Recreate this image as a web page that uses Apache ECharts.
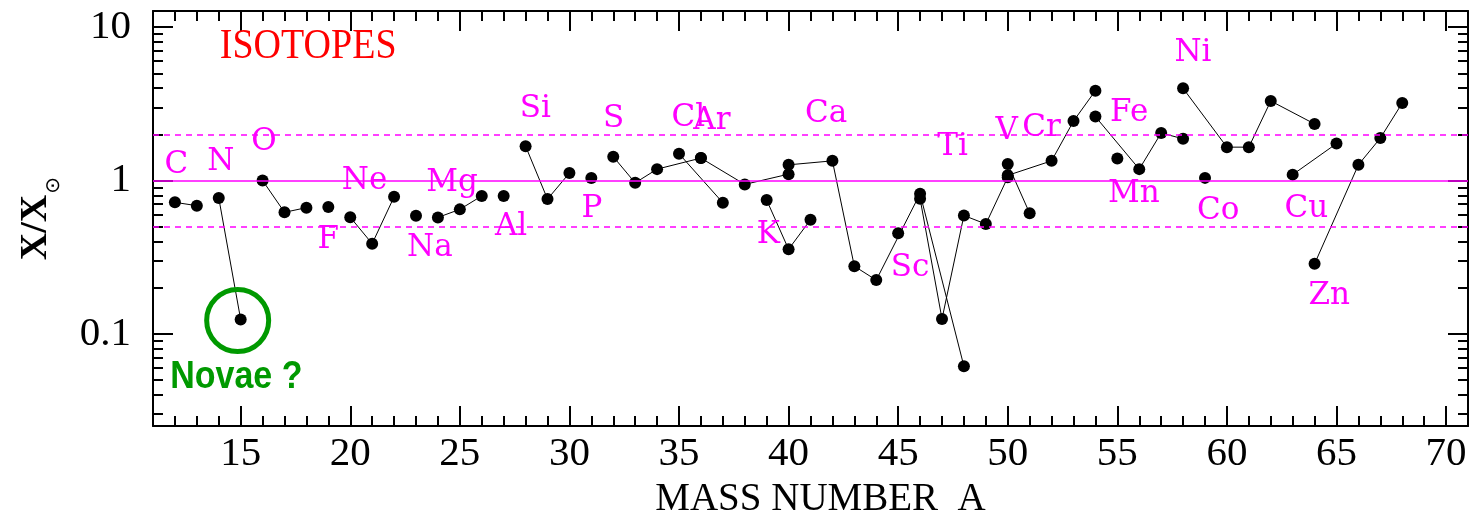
<!DOCTYPE html>
<html>
<head>
<meta charset="utf-8">
<script src="https://cdn.jsdelivr.net/npm/echarts@6/dist/echarts.min.js"></script>
<style>
  html, body { margin: 0; padding: 0; background: #ffffff; }
  #chart { width: 1476px; height: 524px; }
</style>
</head>
<body>
<div id="chart"></div>
<script>
// Isotopic abundances relative to solar: [mass number A, X/X⊙]
const carbon     = [[12, 0.72], [13, 0.685]];
const nitrogen   = [[14, 0.77], [15, 0.124]];
const oxygen     = [[16, 1.0], [17, 0.62], [18, 0.665]];
const fluorine   = [[19, 0.672]];
const neon       = [[20, 0.576], [21, 0.387], [22, 0.782]];
const sodium     = [[23, 0.588]];
const magnesium  = [[24, 0.574], [25, 0.648], [26, 0.793]];
const aluminium  = [[27, 0.793]];
const silicon    = [[28, 1.675], [29, 0.756], [30, 1.118]];
const phosphorus = [[31, 1.039]];
const sulfur     = [[32, 1.43], [33, 0.965], [34, 1.186], [36, 1.40]];
const chlorine   = [[35, 1.495], [37, 0.716]];
const argon      = [[36, 1.40], [38, 0.943], [40, 1.10]];
const potassium  = [[39, 0.745], [40, 0.356], [41, 0.555]];
const calcium    = [[40, 1.265], [42, 1.343], [43, 0.276], [44, 0.224], [46, 0.82], [48, 0.0614]];
const scandium   = [[45, 0.452]];
const titanium   = [[46, 0.76], [47, 0.125], [48, 0.591], [49, 0.52], [50, 1.05]];
const vanadium   = [[50, 1.28], [51, 0.611]];
const chromium   = [[50, 1.08], [52, 1.343], [53, 2.44], [54, 3.855]];
const manganese  = [[55, 1.39]];
const iron       = [[54, 2.61], [56, 1.186], [57, 2.04], [58, 1.87]];
const cobalt     = [[59, 1.04]];
const nickel     = [[58, 3.99], [60, 1.65], [61, 1.65], [62, 3.30], [64, 2.337]];
const copper     = [[63, 1.092], [65, 1.74]];
const zinc       = [[64, 0.286], [66, 1.266], [67, 1.89], [68, 3.2]];

const elementSeries = [
  ['C', carbon], ['N', nitrogen], ['O', oxygen], ['F', fluorine], ['Ne', neon],
  ['Na', sodium], ['Mg', magnesium], ['Al', aluminium], ['Si', silicon],
  ['P', phosphorus], ['S', sulfur], ['Cl', chlorine], ['Ar', argon],
  ['K', potassium], ['Ca', calcium], ['Sc', scandium], ['Ti', titanium],
  ['V', vanadium], ['Cr', chromium], ['Mn', manganese], ['Fe', iron],
  ['Co', cobalt], ['Ni', nickel], ['Cu', copper], ['Zn', zinc]
];

// Element symbols, anchored in data space: [text, A, X/X⊙]
const elementLabels = [
  ['C', 12.07, 1.343], ['N', 14.09, 1.41], ['O', 16.06, 1.89], ['F', 19.0, 0.434],
  ['Ne', 20.65, 1.05], ['Na', 23.63, 0.384], ['Mg', 24.65, 1.02], ['Al', 27.34, 0.527],
  ['Si', 28.45, 3.09], ['P', 31.03, 0.692], ['S', 32.02, 2.67], ['Cl', 35.43, 2.73],
  ['Ar', 36.5, 2.61], ['K', 39.08, 0.467], ['Ca', 41.71, 2.87], ['Sc', 45.54, 0.286],
  ['Ti', 47.48, 1.758], ['V', 49.95, 2.25], ['Cr', 51.54, 2.33], ['Mn', 55.75, 0.87],
  ['Fe', 55.54, 2.94], ['Co', 59.6, 0.675], ['Ni', 58.45, 7.2], ['Cu', 63.62, 0.692],
  ['Zn', 64.67, 0.188]
];

// Reference levels: solar, and factor-of-two band
const solarLevel = 1;
const bandLevels = [2, 0.5];

// Highlighted point (15N)
const novaePoint = [15, 0.124];

// Axis ranges and ticks
const xRange = [11, 71];
const yRange = [0.025, 12.75];
const xMajorTicks = [15, 20, 25, 30, 35, 40, 45, 50, 55, 60, 65, 70];
const xMinorTicks = [12, 13, 14, 16, 17, 18, 19, 21, 22, 23, 24, 26, 27, 28, 29, 31, 32, 33, 34,
  36, 37, 38, 39, 41, 42, 43, 44, 46, 47, 48, 49, 51, 52, 53, 54, 56, 57, 58, 59,
  61, 62, 63, 64, 66, 67, 68, 69];
const yMajorTicks = [0.1, 1, 10];
const yMinorTicks = [0.03, 0.04, 0.05, 0.06, 0.07, 0.08, 0.09,
  0.2, 0.3, 0.4, 0.5, 0.6, 0.7, 0.8, 0.9,
  2, 3, 4, 5, 6, 7, 8, 9];

const MAGENTA = '#ff00ff';
const GREEN = '#009900';
const SERIF = '"Liberation Serif", "DejaVu Serif", serif';

const chart = echarts.init(document.getElementById('chart'), null, { renderer: 'canvas' });

function xAxisDef(position, ticks, len, withLabels) {
  return {
    type: 'value', position, min: xRange[0], max: xRange[1],
    axisLine: { show: len > 12, onZero: false, lineStyle: { color: '#000', width: 2 } },
    axisTick: { show: true, inside: true, length: len, customValues: ticks,
                lineStyle: { color: '#000', width: 2 } },
    axisLabel: withLabels ? {
      show: true, customValues: ticks, margin: 8, color: '#000',
      fontFamily: SERIF, fontSize: 41
    } : { show: false },
    splitLine: { show: false }
  };
}

function yAxisDef(position, ticks, len, withLabels) {
  return {
    type: 'log', logBase: 10, position, min: yRange[0], max: yRange[1],
    axisLine: { show: len > 12, onZero: false, lineStyle: { color: '#000', width: 2 } },
    axisTick: { show: true, inside: true, length: len, customValues: ticks,
                lineStyle: { color: '#000', width: 2 } },
    axisLabel: withLabels ? {
      show: true, customValues: ticks, margin: 22, color: '#000',
      fontFamily: SERIF, fontSize: 41, formatter: v => String(v)
    } : { show: false },
    splitLine: { show: false },
    minorTick: { show: false }
  };
}

const xAxes = [
  Object.assign(xAxisDef('bottom', xMajorTicks, 20, true), {
    name: 'MASS NUMBER  A', nameLocation: 'middle', nameGap: 50,
    nameTextStyle: { color: '#000', fontFamily: SERIF, fontSize: 39, padding: [0, 0, 0, 20] }
  }),
  xAxisDef('bottom', xMinorTicks, 10, false),
  xAxisDef('top', xMajorTicks, 20, false),
  xAxisDef('top', xMinorTicks, 10, false)
];

const yAxes = [
  Object.assign(yAxisDef('left', yMajorTicks, 20, true), {
    name: '{x|X/X}{s|⊙}', nameLocation: 'middle', nameGap: 96, nameRotate: 90,
    nameTextStyle: {
      rich: {
        x: { fontFamily: SERIF, fontWeight: 'bold', fontSize: 38, color: '#000',
             lineHeight: 40, verticalAlign: 'top' },
        s: { fontFamily: '"DejaVu Sans"', fontSize: 20, color: '#000',
             lineHeight: 20, verticalAlign: 'top', padding: [27, 0, 0, 1] }
      }
    }
  }),
  yAxisDef('left', yMinorTicks, 10, false),
  yAxisDef('right', yMajorTicks, 20, false),
  yAxisDef('right', yMinorTicks, 10, false)
];

const lineSeries = elementSeries.map(([name, pts]) => ({
  type: 'line', name, data: pts,
  symbol: 'circle', symbolSize: 12, showSymbol: true,
  itemStyle: { color: '#000', opacity: 1 },
  lineStyle: { color: '#000', width: 1 },
  z: 4, animation: false, silent: true
}));

// Text annotations placed through the axes' own scales (dy nudges the cap line)
const textItems = elementLabels.map(([t, a, v]) => ({
  value: [a, v], text: t, font: '31px "DejaVu Serif"', fill: MAGENTA, sy: 1, dy: 4
}));
textItems.push({ value: [18.08, 7.56], text: 'ISOTOPES', font: '38px "Liberation Serif"', fill: '#ff0000', sy: 1.1, dy: 1 });
textItems.push({ value: [14.8, 0.0525], text: 'Novae ?', font: 'bold 34px "Liberation Sans"', fill: GREEN, sy: 1.15, dy: 1 });

const option = {
  animation: false,
  backgroundColor: '#ffffff',
  grid: { left: 153, right: 8, top: 11, bottom: 90, containLabel: false },
  xAxis: xAxes,
  yAxis: yAxes,
  series: [
    {
      type: 'line', data: [], z: 1, silent: true,
      markLine: {
        silent: true, symbol: 'none', animation: false,
        label: { show: false },
        data: [
          { yAxis: solarLevel, lineStyle: { color: MAGENTA, width: 1.5, type: 'solid' } },
          ...bandLevels.map(v => ({ yAxis: v, lineStyle: { color: MAGENTA, width: 1.5, type: [6, 5] } }))
        ]
      }
    },
    ...lineSeries,
    {
      type: 'scatter', data: [novaePoint], symbol: 'circle', symbolSize: 62,
      symbolOffset: [-3, 1],
      itemStyle: { color: 'rgba(0,0,0,0)', borderColor: GREEN, borderWidth: 5, opacity: 1 },
      z: 5, silent: true
    },
    {
      type: 'custom', coordinateSystem: 'cartesian2d', silent: true, z: 6,
      data: textItems.map(t => t.value),
      renderItem: (params, api) => {
        const item = textItems[params.dataIndex];
        const p = api.coord([api.value(0), api.value(1)]);
        return {
          type: 'text', x: p[0], y: p[1] + item.dy, scaleY: item.sy,
          style: { text: item.text, font: item.font, fill: item.fill,
                   align: 'center', verticalAlign: 'middle' }
        };
      }
    }
  ]
};

chart.setOption(option);
</script>
</body>
</html>
